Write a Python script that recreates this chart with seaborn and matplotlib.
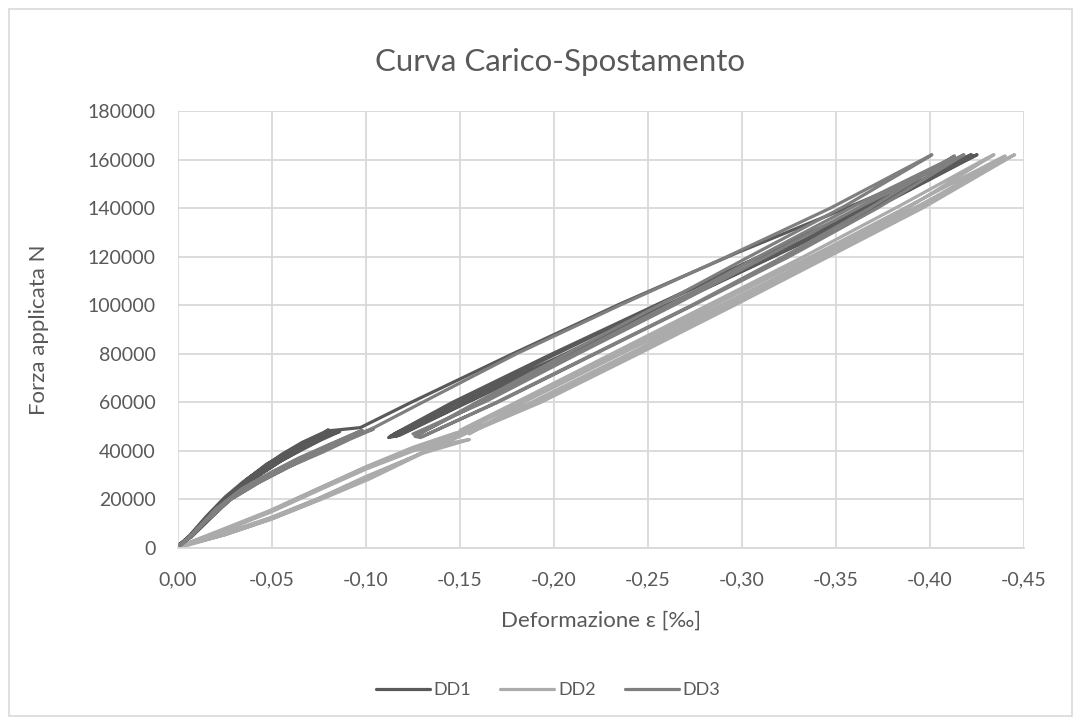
import numpy as np
import pandas as pd
import matplotlib
matplotlib.use('Agg')
import matplotlib.pyplot as plt
from matplotlib.patches import Rectangle
import seaborn as sns

# Load-deformation path of each gauge (deformation in permille, force in N)
dd1_x = [0.0, -0.006, -0.014, -0.022, -0.032, -0.042, -0.052, -0.062, -0.072, -0.082,
         -0.079, -0.068, -0.057, -0.047, -0.037, -0.027, -0.017, -0.007, -0.001,
         -0.007, -0.015, -0.024, -0.034, -0.045, -0.055, -0.066, -0.076, -0.086,
         -0.082, -0.071, -0.060, -0.050, -0.040, -0.030, -0.019, -0.008, -0.002,
         -0.007, -0.015, -0.023, -0.033, -0.044, -0.054, -0.064, -0.074, -0.080,
         -0.078, -0.066, -0.055, -0.045, -0.035, -0.025, -0.015, -0.006, -0.001,
         -0.007, -0.015, -0.023, -0.033, -0.043, -0.053, -0.063, -0.073, -0.083, -0.097,
         -0.124, -0.178, -0.235, -0.297, -0.360, -0.422,
         -0.418, -0.370, -0.315, -0.258, -0.202, -0.148, -0.114,
         -0.112, -0.118, -0.154, -0.208, -0.262, -0.318, -0.372, -0.425,
         -0.421, -0.366, -0.311, -0.255, -0.200, -0.145, -0.113,
         -0.116, -0.152, -0.206, -0.260, -0.316, -0.370, -0.423,
         -0.419, -0.364, -0.309, -0.254, -0.199, -0.146, -0.115]
dd1_y = [0, 4500, 10500, 17000, 24000, 30000, 35500, 40000, 44500, 48500,
         47500, 43500, 39000, 34500, 28500, 21500, 14000, 5500, 1500,
         5000, 11000, 17500, 24500, 31000, 36000, 40500, 44500, 48000,
         47000, 43000, 39000, 34500, 29500, 23000, 15000, 6000, 2000,
         4500, 10500, 16500, 23500, 30500, 35500, 40000, 45000, 48700,
         47800, 43500, 38500, 33000, 27500, 21000, 13000, 5000, 1500,
         5000, 11000, 17000, 24000, 30500, 35500, 40000, 45000, 48500, 49600,
         60000, 80000, 100500, 121500, 141500, 162000,
         160500, 141000, 120000, 99500, 78500, 59500, 46500,
         45500, 46500, 60000, 80000, 100000, 120500, 140500, 162000,
         160500, 140500, 120500, 100000, 79500, 59000, 46000,
         46000, 59500, 79500, 99500, 120000, 140000, 161500,
         160000, 140000, 120000, 100000, 80000, 60000, 47000]

dd2_x = [0.0, -0.025, -0.050, -0.075, -0.100, -0.125, -0.152,
         -0.148, -0.125, -0.100, -0.075, -0.050, -0.025, 0.0,
         -0.025, -0.050, -0.076, -0.102, -0.130, -0.155,
         -0.150, -0.125, -0.100, -0.074, -0.050, -0.024, -0.001,
         -0.024, -0.049, -0.075, -0.100, -0.128, -0.150,
         -0.146, -0.122, -0.099, -0.073, -0.049, -0.023, 0.0,
         -0.025, -0.050, -0.075, -0.100, -0.150, -0.188, -0.240, -0.291, -0.340, -0.388, -0.434,
         -0.430, -0.384, -0.334, -0.283, -0.232, -0.181, -0.150,
         -0.153, -0.191, -0.243, -0.294, -0.344, -0.393, -0.440,
         -0.436, -0.389, -0.338, -0.286, -0.234, -0.183, -0.152,
         -0.155, -0.193, -0.245, -0.296, -0.346, -0.396, -0.445,
         -0.441, -0.394, -0.342, -0.290, -0.237, -0.185, -0.155]
dd2_y = [0, 5500, 12000, 20000, 28500, 37500, 48000,
         47500, 41500, 33500, 24500, 15500, 7500, 500,
         5500, 12000, 20000, 28500, 39000, 44700,
         44000, 40000, 32500, 23500, 15000, 7000, 500,
         6000, 12500, 20500, 29500, 38500, 46500,
         45500, 40000, 33000, 24000, 15500, 7500, 500,
         5500, 12500, 20500, 29000, 46000, 60000, 80000, 100000, 120000, 140000, 162000,
         160500, 141000, 120500, 100500, 80500, 60500, 48500,
         47500, 60000, 80000, 100000, 120000, 140000, 161500,
         160000, 141000, 120500, 100500, 80500, 60500, 48000,
         47500, 60000, 80000, 100000, 120000, 140000, 162000,
         160500, 141000, 120500, 100500, 80500, 60500, 47000]

dd3_x = [0.0, -0.006, -0.013, -0.026, -0.040, -0.055, -0.070, -0.085, -0.098,
         -0.095, -0.080, -0.064, -0.049, -0.034, -0.020, -0.008, 0.0,
         -0.007, -0.014, -0.028, -0.043, -0.059, -0.077, -0.092, -0.104,
         -0.100, -0.084, -0.068, -0.052, -0.036, -0.021, -0.008, -0.001,
         -0.007, -0.014, -0.028, -0.043, -0.058, -0.074, -0.089, -0.104,
         -0.130, -0.180, -0.235, -0.292, -0.347, -0.401,
         -0.398, -0.355, -0.305, -0.257, -0.208, -0.160, -0.126,
         -0.129, -0.168, -0.220, -0.272, -0.322, -0.368, -0.413,
         -0.410, -0.360, -0.310, -0.262, -0.212, -0.162, -0.127,
         -0.130, -0.170, -0.222, -0.274, -0.325, -0.372, -0.418,
         -0.414, -0.364, -0.314, -0.265, -0.214, -0.164, -0.125]
dd3_y = [0, 4500, 10000, 19500, 26500, 32500, 38500, 44000, 48500,
         47500, 42500, 37000, 31000, 24500, 16000, 6000, 500,
         5000, 10500, 20000, 27000, 33500, 39500, 45000, 49000,
         48000, 43000, 37500, 31500, 25000, 16500, 5500, 800,
         5000, 10500, 20000, 27000, 33000, 39000, 44500, 49500,
         60000, 80000, 100000, 120000, 140000, 162000,
         160500, 141000, 120500, 100500, 80500, 60500, 46000,
         45500, 59500, 79500, 99500, 120000, 140000, 161500,
         160000, 141000, 120500, 100500, 80500, 60500, 46500,
         46000, 60000, 80000, 100000, 120000, 140000, 162000,
         160500, 141000, 120500, 100500, 80500, 60500, 47000]

series_names = ['DD1', 'DD2', 'DD3']
series_colors = ['#595959', '#ababab', '#7f7f7f']
x_ticks = [0.0, -0.05, -0.10, -0.15, -0.20, -0.25, -0.30, -0.35, -0.40, -0.45]
y_ticks = [0, 20000, 40000, 60000, 80000, 100000, 120000, 140000, 160000, 180000]

frames = []
for name, xs, ys in zip(series_names, [dd1_x, dd2_x, dd3_x], [dd1_y, dd2_y, dd3_y]):
    frames.append(pd.DataFrame({'x': xs, 'y': ys, 'serie': name}))
df = pd.concat(frames, ignore_index=True)

sns.set_style('white')
plt.rcParams['font.family'] = ['Lato', 'DejaVu Sans']
text_col = '#595959'
grid_col = '#d9d9d9'

fig = plt.figure(figsize=(10.81, 7.25), dpi=100)
ax = fig.add_axes([0.1647, 0.2441, 0.7826, 0.6028])

sns.lineplot(data=df, x='x', y='y', hue='serie', hue_order=series_names,
             palette=series_colors, sort=False, estimator=None, units='serie',
             linewidth=2.3, ax=ax, legend=False)

ax.set_xlim(0, -0.45)
ax.set_ylim(0, 180000)
ax.set_xticks(x_ticks)
ax.set_xticklabels([f'{t:.2f}'.replace('.', ',') for t in x_ticks])
ax.set_yticks(y_ticks)
ax.set_yticklabels([str(t) for t in y_ticks])
ax.tick_params(axis='both', length=0, labelsize=14, colors=text_col)
ax.tick_params(axis='y', pad=16)
ax.tick_params(axis='x', pad=17)
ax.grid(True, color=grid_col, linewidth=1.3)
ax.set_axisbelow(True)
for side in ['top', 'right', 'left']:
    ax.spines[side].set_visible(False)
ax.spines['bottom'].set_color(grid_col)
ax.spines['bottom'].set_linewidth(1.3)

ax.set_xlabel('Deformazione ε [‰]', fontsize=16, color=text_col)
ax.set_ylabel('Forza applicata N', fontsize=16, color=text_col)
ax.xaxis.set_label_coords(0.5, -0.144)
ax.yaxis.set_label_coords(-0.153, 0.5)

fig.text(0.518, 0.915, 'Curva Carico-Spostamento', ha='center', va='center',
         fontsize=22.5, color=text_col)

handles = [plt.Line2D([], [], color=c, linewidth=2.3) for c in series_colors]
fig.legend(handles, series_names, loc='center', bbox_to_anchor=(0.507, 0.048),
           ncol=3, frameon=False, fontsize=13, handlelength=3.0,
           handletextpad=0.2, columnspacing=1.6, labelcolor=text_col)

fig.add_artist(Rectangle((0.008, 0.012), 0.984, 0.976, transform=fig.transFigure,
                         fill=False, edgecolor=grid_col, linewidth=1.2))

plt.savefig('out.png', dpi=100)
